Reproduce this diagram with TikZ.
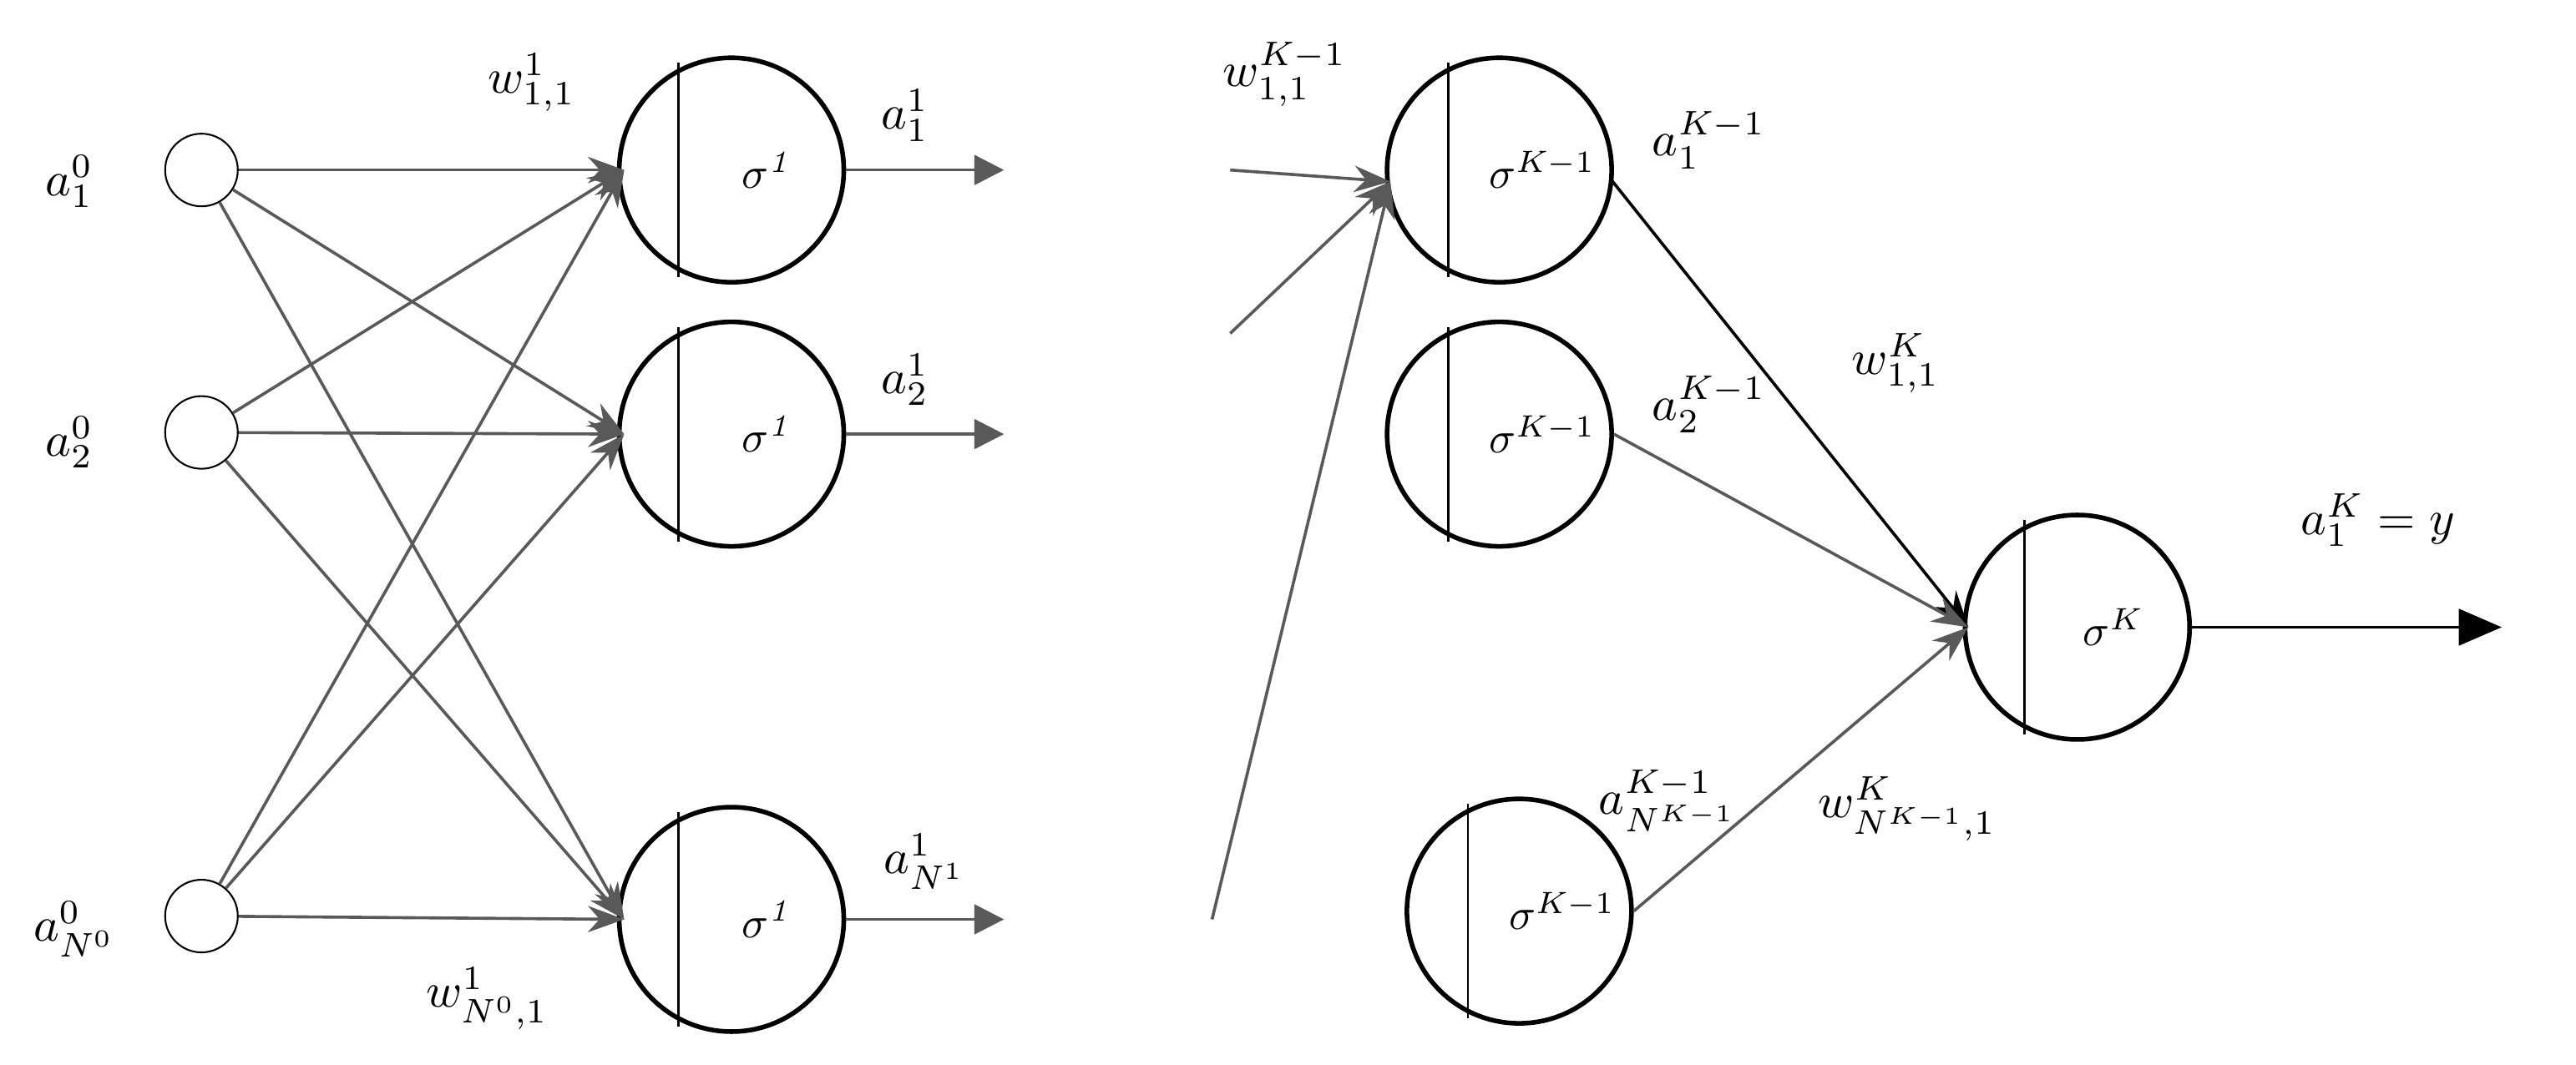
\documentclass[tikz,border=0pt]{standalone}
\usetikzlibrary{arrows.meta}
\begin{document}
\begin{tikzpicture}[x=0.05cm,y=-0.05cm,
  inp/.style={circle,draw,line width=1.5pt,minimum size=2.2cm,inner sep=0},
  neu/.style={circle,draw,line width=4pt,minimum size=6.8cm,inner sep=0},
  conn/.style={draw=black!65,line width=2.6pt,-{Stealth[length=1.1cm,width=0.8cm]}},
  outa/.style={draw=black!65,line width=2.6pt,-{Triangle[length=0.9cm,width=0.9cm]}},
  lab/.style={scale=4.2},
  sig/.style={scale=3.8}]
\useasboundingbox (0,0) rectangle (1560,645);
% inputs
\node[inp] (i1) at (122,103) {};
\node[inp] (i2) at (122,262) {};
\node[inp] (i3) at (122,555) {};
\foreach \n/\y in {n1/103,n2/263,n3/557}{
  \node[neu] (\n) at (443,\y) {};
  \draw[line width=2pt] (411,\y-65) -- (411,\y+65);
  \node[sig] at (465,\y) {$\sigma^{\mathit 1}$};
  \coordinate (\n in) at (378,\y);
  \coordinate (\n out) at (608,\y);
  \draw[outa] (\n.east) -- (\n out);
}
\foreach \i in {i1,i2,i3}{\foreach \n in {n1,n2,n3}{\draw[conn] (\i) -- (\n in);}}
\node[lab] at (42,110) {$a_1^0$};
\node[lab] at (42,268) {$a_2^0$};
\node[lab] at (45,563) {$a_{N^0}^0$};
\node[lab] at (322,50) {$w_{1,1}^1$};
\node[lab] at (548,70) {$a_1^1$};
\node[lab] at (548,230) {$a_2^1$};
\node[lab] at (560,522) {$a_{N^1}^1$};
\node[lab] at (295,605) {$w_{N^0,1}^1$};
% right part
\foreach \n/\x/\y in {m1/908/103,m2/908/263,m3/920/552}{
  \node[neu] (\n) at (\x,\y) {};
  \draw[line width=2pt] (\x-31,\y-65) -- (\x-31,\y+65);
  \node[sig] at (\x+26,\y) {$\sigma^{K-1}$};
}
\node[neu] (o) at (1258,380) {};
\draw[line width=2pt] (1226,315) -- (1226,445);
\node[sig] at (1280,380) {$\sigma^{K}$};
\coordinate (min) at (842,110);
\coordinate (s1) at (745,103);
\coordinate (s2) at (745,202);
\coordinate (s3) at (734,557);
\foreach \s in {s1,s2,s3}{\draw[conn] (\s) -- (min);}
\coordinate (oin) at (1192,380);
\draw[conn,draw=black] (975,108) -- (oin);
\draw[conn] (m2.east) -- (oin);
\draw[conn] (m3.east) -- (oin);
\coordinate (yout) at (1515,380);
\draw[line width=2.6pt,-{Triangle[length=1.3cm,width=1.1cm]}] (o.east) -- (yout);
\node[lab] at (778,45) {$w_{1,1}^{K-1}$};
\node[lab] at (1035,85) {$a_1^{K-1}$};
\node[lab] at (1148,220) {$w_{1,1}^{K}$};
\node[lab] at (1035,245) {$a_2^{K-1}$};
\node[lab] at (1010,485) {$a_{N^{K-1}}^{K-1}$};
\node[lab] at (1155,490) {$w_{N^{K-1},1}^{K}$};
\node[lab] at (1440,315) {$a_1^{K}=y$};
\end{tikzpicture}
\end{document}
